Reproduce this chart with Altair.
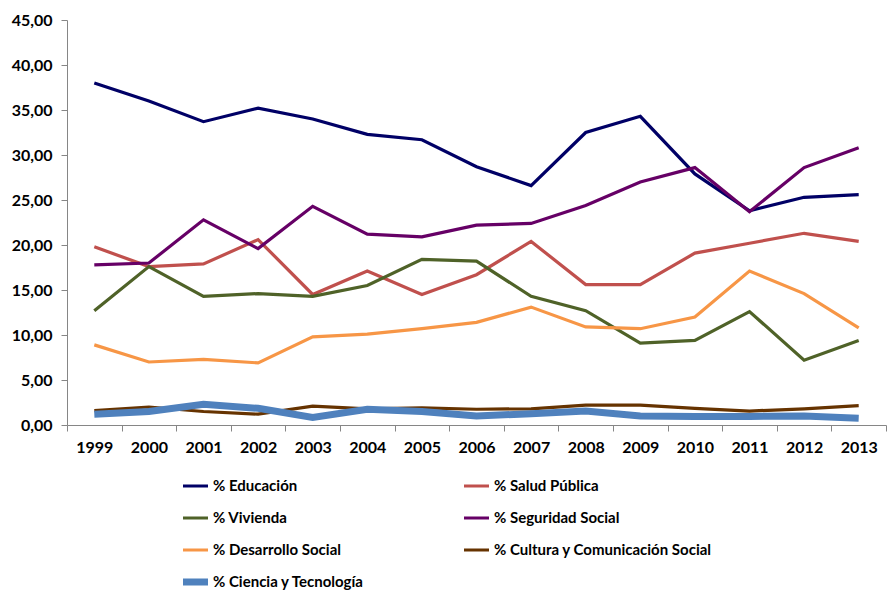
import altair as alt
import pandas as pd

years = ["1999", "2000", "2001", "2002", "2003", "2004", "2005", "2006",
         "2007", "2008", "2009", "2010", "2011", "2012", "2013"]

series = ["% Educación", "% Salud Pública", "% Vivienda", "% Seguridad Social",
          "% Desarrollo Social", "% Cultura y Comunicación Social",
          "% Ciencia y Tecnología"]

educacion = [38.0, 36.0, 33.7, 35.2, 34.0, 32.3, 31.7, 28.7, 26.6, 32.5, 34.3, 27.9, 23.8, 25.3, 25.6]
salud = [19.8, 17.6, 17.9, 20.6, 14.5, 17.1, 14.5, 16.7, 20.4, 15.6, 15.6, 19.1, 20.2, 21.3, 20.4]
vivienda = [12.7, 17.6, 14.3, 14.6, 14.3, 15.5, 18.4, 18.2, 14.3, 12.7, 9.1, 9.4, 12.6, 7.2, 9.4]
seguridad = [17.8, 18.0, 22.8, 19.6, 24.3, 21.2, 20.9, 22.2, 22.4, 24.4, 27.0, 28.6, 23.7, 28.6, 30.8]
desarrollo = [8.9, 7.0, 7.3, 6.9, 9.8, 10.1, 10.7, 11.4, 13.1, 10.9, 10.7, 12.0, 17.1, 14.6, 10.8]
cultura = [1.6, 2.0, 1.5, 1.2, 2.1, 1.8, 1.9, 1.75, 1.8, 2.2, 2.2, 1.85, 1.55, 1.8, 2.15]
ciencia = [1.2, 1.5, 2.3, 1.85, 0.85, 1.75, 1.5, 1.0, 1.25, 1.55, 1.0, 0.95, 0.95, 1.0, 0.75]

colors = ["#000066", "#C0504D", "#4F6228", "#660066", "#F79646", "#663300", "#4F81BD"]
widths = [3.2, 3.2, 3.2, 3.2, 3.2, 3.2, 7]

values = [educacion, salud, vivienda, seguridad, desarrollo, cultura, ciencia]
rows = []
for i, (name, vals) in enumerate(zip(series, values)):
    for y, v in zip(years, vals):
        rows.append({"serie": name, "year": y, "valor": v, "orden": i,
                     "w": widths[i]})
df = pd.DataFrame(rows)

FONT = "Lato"

legend = alt.Legend(
    title=None, orient="none", legendX=116, legendY=456, columns=2,
    direction="horizontal", clipHeight=20,
    symbolType="stroke", symbolSize=1225, labelFont=FONT, labelFontSize=15,
    labelFontWeight="bold",
    labelColor="#000000", labelOffset=15, columnPadding=99, rowPadding=12,
    labelLimit=400,
    symbolStrokeWidth=alt.ExprRef(
        "datum && datum.value === '% Ciencia y Tecnología' ? 7 : 3.2"),
)

chart = alt.Chart(df).mark_line().encode(
    x=alt.X("year:O", title=None,
            scale=alt.Scale(type="band", paddingInner=0, paddingOuter=0),
            axis=alt.Axis(tickBand="extent", labelAngle=0, labelFont=FONT,
                          labelFontSize=16, labelFontWeight="bold",
                          labelColor="#000000", domainColor="#868686",
                          tickColor="#868686", tickSize=6, labelPadding=8,
                          grid=False)),
    y=alt.Y("valor:Q", title=None,
            scale=alt.Scale(domain=[0, 45], nice=False),
            axis=alt.Axis(values=list(range(0, 50, 5)), labelFont=FONT,
                          labelFontSize=16, labelFontWeight="bold",
                          labelColor="#000000", domainColor="#868686",
                          tickColor="#868686", tickSize=6, labelPadding=9,
                          grid=False,
                          labelExpr="replace(format(datum.value, '.2f'), '.', ',')")),
    color=alt.Color("serie:N", sort=series,
                    scale=alt.Scale(domain=series, range=colors),
                    legend=legend),
    strokeWidth=alt.StrokeWidth("w:Q", scale=None, legend=None),
    order=alt.Order("orden:Q"),
).properties(
    width=819, height=405,
    autosize=alt.AutoSizeParams(type="none"),
    padding={"left": 67, "top": 20, "right": 3, "bottom": 165},
).configure_view(stroke=None)

chart.save("out.html", embed_options={"renderer": "svg", "actions": False})
